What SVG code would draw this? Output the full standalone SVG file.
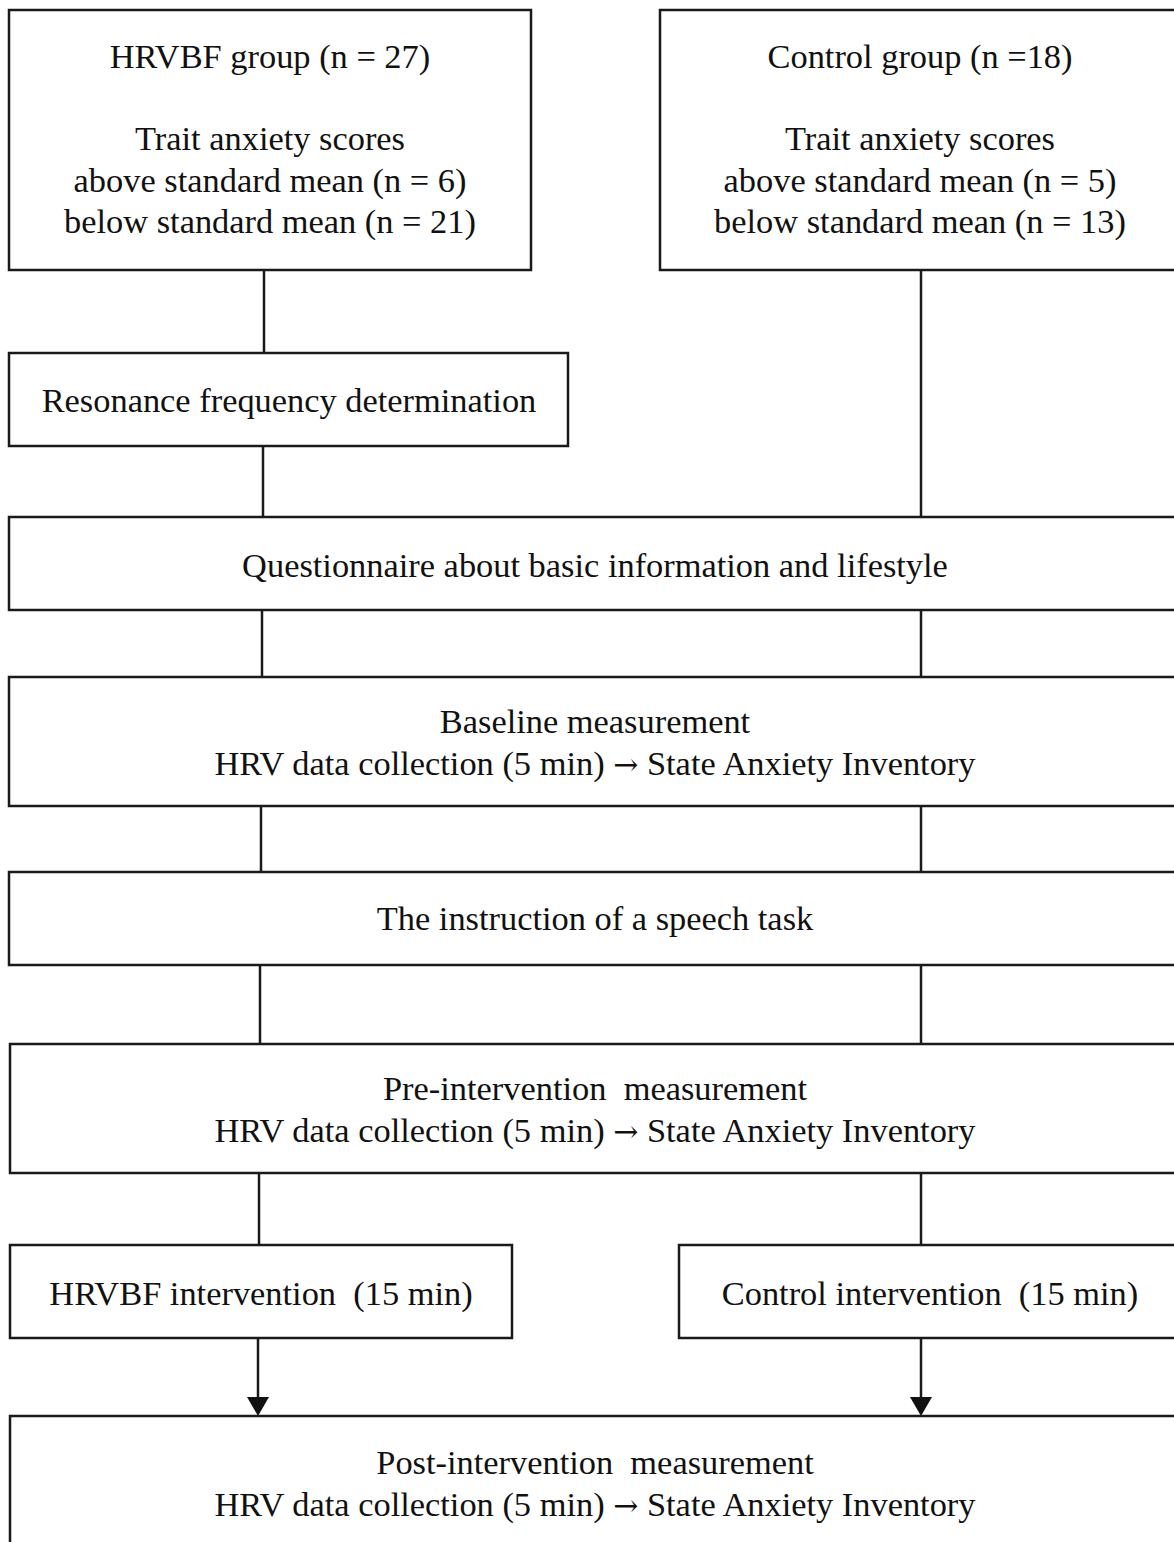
<svg xmlns="http://www.w3.org/2000/svg" width="1174" height="1542" viewBox="0 0 1174 1542">
<defs>
<style>
.box{fill:#fff;stroke:#1a1a1a;stroke-width:2.5}
.t{font-family:"Liberation Serif","Times New Roman",serif;font-size:34.4px;fill:#111;text-anchor:middle;white-space:pre}
.a{font-family:"DejaVu Serif",serif;font-size:30px}
.c{stroke:#1a1a1a;stroke-width:2.5;fill:none}
</style>
</defs>
<rect width="1174" height="1542" fill="#fff"/>
<g id="connectors">
<line class="c" x1="264" y1="270" x2="264" y2="353"/>
<line class="c" x1="263" y1="446" x2="263" y2="517"/>
<line class="c" x1="262" y1="610" x2="262" y2="677"/>
<line class="c" x1="261" y1="806" x2="261" y2="872"/>
<line class="c" x1="260" y1="965" x2="260" y2="1044"/>
<line class="c" x1="259" y1="1173" x2="259" y2="1245"/>
<line class="c" x1="258" y1="1338" x2="258" y2="1398"/>
<path d="M247,1397 L269,1397 L258,1416 Z" fill="#111"/>
<line class="c" x1="921" y1="270" x2="921" y2="517"/>
<line class="c" x1="921" y1="610" x2="921" y2="677"/>
<line class="c" x1="921" y1="806" x2="921" y2="872"/>
<line class="c" x1="921" y1="965" x2="921" y2="1044"/>
<line class="c" x1="921" y1="1173" x2="921" y2="1245"/>
<line class="c" x1="921" y1="1338" x2="921" y2="1398"/>
<path d="M910,1397 L932,1397 L921,1416 Z" fill="#111"/>
</g>
<g id="hrvbf-group">
<rect class="box" x="9" y="10" width="522" height="260"/>
<text class="t" x="270" y="68">HRVBF group (n = 27)</text>
<text class="t" x="270" y="150">Trait anxiety scores</text>
<text class="t" x="270" y="192">above standard mean (n = 6)</text>
<text class="t" x="270" y="233">below standard mean (n = 21)</text>
</g>
<g id="control-group">
<rect class="box" x="660" y="10" width="520" height="260"/>
<text class="t" x="920" y="68">Control group (n =18)</text>
<text class="t" x="920" y="150">Trait anxiety scores</text>
<text class="t" x="920" y="192">above standard mean (n = 5)</text>
<text class="t" x="920" y="233">below standard mean (n = 13)</text>
</g>
<g id="resonance">
<rect class="box" x="9" y="353" width="559" height="93"/>
<text class="t" x="289" y="412">Resonance frequency determination</text>
</g>
<g id="questionnaire">
<rect class="box" x="9" y="517" width="1172" height="93"/>
<text class="t" x="595" y="577">Questionnaire about basic information and lifestyle</text>
</g>
<g id="baseline">
<rect class="box" x="9" y="677" width="1172" height="129"/>
<text class="t" x="595" y="733">Baseline measurement</text>
<text class="t" x="595" y="775">HRV data collection (5 min) <tspan class="a">→</tspan> State Anxiety Inventory</text>
</g>
<g id="instruction">
<rect class="box" x="9" y="872" width="1172" height="93"/>
<text class="t" x="595" y="930">The instruction of a speech task</text>
</g>
<g id="pre-intervention">
<rect class="box" x="10" y="1044" width="1171" height="129"/>
<text class="t" x="595" y="1100">Pre-intervention  measurement</text>
<text class="t" x="595" y="1142">HRV data collection (5 min) <tspan class="a">→</tspan> State Anxiety Inventory</text>
</g>
<g id="hrvbf-intervention">
<rect class="box" x="10" y="1245" width="502" height="93"/>
<text class="t" x="261" y="1305">HRVBF intervention  (15 min)</text>
</g>
<g id="control-intervention">
<rect class="box" x="679" y="1245" width="502" height="93"/>
<text class="t" x="930" y="1305">Control intervention  (15 min)</text>
</g>
<g id="post-intervention">
<rect class="box" x="10" y="1416" width="1171" height="140"/>
<text class="t" x="595" y="1474">Post-intervention  measurement</text>
<text class="t" x="595" y="1516">HRV data collection (5 min) <tspan class="a">→</tspan> State Anxiety Inventory</text>
</g>
</svg>
